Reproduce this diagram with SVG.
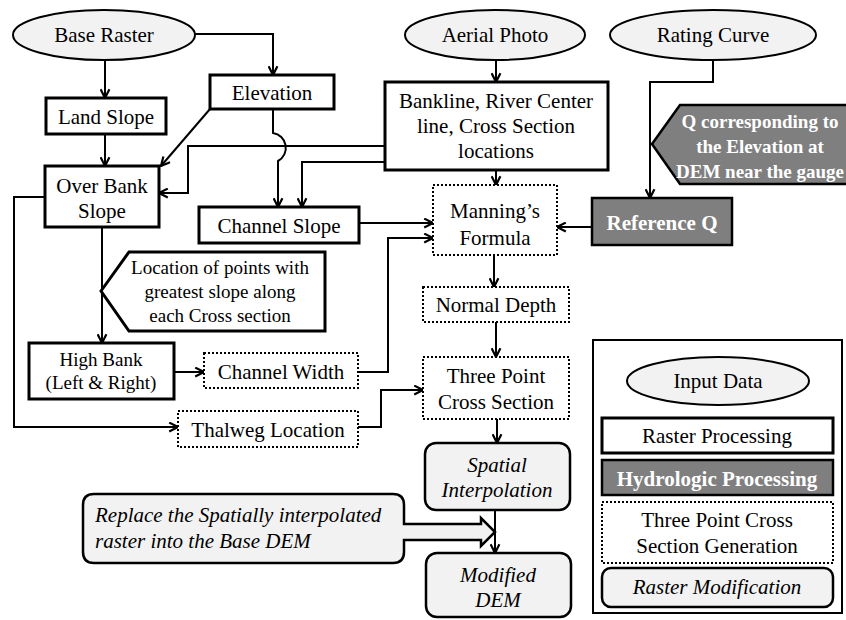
<svg xmlns="http://www.w3.org/2000/svg" width="846" height="620" viewBox="0 0 846 620">
<style>
text{font-family:"Liberation Serif","Times New Roman",serif;font-size:21px;fill:#000;text-anchor:middle}
.sm{font-size:19px}
.b{font-weight:bold;fill:#fff}
.i{font-style:italic}
.ell{fill:#f2f2f2;stroke:#000;stroke-width:2}
.rp{fill:#fff;stroke:#000;stroke-width:3}
.dot{fill:#fff;stroke:#000;stroke-width:2;stroke-dasharray:2 2}
.hp{fill:#7f7f7f;stroke:#000;stroke-width:2.5}
.rm{fill:#f2f2f2;stroke:#000;stroke-width:2.5}
.c{fill:none;stroke:#000;stroke-width:2;marker-end:url(#ah)}
.cn{fill:none;stroke:#000;stroke-width:2}
</style>
<defs>
<marker id="ah" viewBox="0 0 10 10" refX="9" refY="5" markerWidth="11" markerHeight="11" markerUnits="userSpaceOnUse" orient="auto">
<path d="M1,1 L9,5 L1,9" fill="none" stroke="#000" stroke-width="2"/>
</marker>
</defs>
<rect width="846" height="620" fill="#fff"/>
<g id="connectors">
<path class="c" d="M105,60 V98"/>
<path class="c" d="M195,34 H273 V75"/>
<path class="c" d="M105,134 V166"/>
<path class="c" d="M210,109 L161,166"/>
<path class="c" d="M273,109 V133 A15,15 0 0 1 278,161 V207"/>
<path class="c" d="M385,146 H188 V193 H159"/>
<path class="c" d="M385,162 H302 V207"/>
<path class="c" d="M496,60 V82"/>
<path class="c" d="M496,170 V185"/>
<path class="c" d="M713,60 V82 H650 V198"/>
<path class="c" d="M592,227 H557"/>
<path class="c" d="M359,223 H433"/>
<path class="c" d="M358,372 H388 V238 H433"/>
<path class="c" d="M102,227 V343"/>
<path class="c" d="M174,372 H204"/>
<path class="c" d="M45,197 H14 V427 H178"/>
<path class="c" d="M358,427 H381 V390 H423"/>
<path class="c" d="M494,255 V287"/>
<path class="c" d="M496,322 V357"/>
<path class="c" d="M497,419 V443"/>
<path class="c" d="M495,510 V553"/>
</g>
<g id="base-raster"><ellipse class="ell" cx="104" cy="35" rx="91" ry="25"/><text x="104" y="42">Base Raster</text></g>
<g id="aerial-photo"><ellipse class="ell" cx="495" cy="35" rx="90" ry="25"/><text x="495" y="42">Aerial Photo</text></g>
<g id="rating-curve"><ellipse class="ell" cx="713" cy="35" rx="103" ry="25"/><text x="713" y="42">Rating Curve</text></g>
<g id="land-slope"><rect class="rp" x="46" y="98" width="120" height="36"/><text x="106" y="124">Land Slope</text></g>
<g id="elevation"><rect class="rp" x="210" y="75" width="124" height="34"/><text x="272" y="100">Elevation</text></g>
<g id="bankline"><rect class="rp" x="385" y="82" width="223" height="88"/><text x="496" y="108">Bankline, River Center</text><text x="496" y="133">line, Cross Section</text><text x="496" y="158">locations</text></g>
<g id="over-bank-slope"><rect class="rp" x="45" y="166" width="114" height="61"/><text x="102" y="193">Over Bank</text><text x="102" y="218">Slope</text></g>
<g id="channel-slope"><rect class="rp" x="199" y="207" width="160" height="36"/><text x="279" y="233">Channel Slope</text></g>
<g id="location-callout"><polygon class="rp" points="101,291 129,252 325,252 325,331 129,331"/><text class="sm" x="220" y="274">Location of points with</text><text class="sm" x="220" y="298">greatest slope along</text><text class="sm" x="220" y="322">each Cross section</text></g>
<g id="high-bank"><rect class="rp" x="29" y="343" width="145" height="56"/><text class="sm" x="101" y="366">High Bank</text><text class="sm" x="101" y="389">(Left &amp; Right)</text></g>
<g id="channel-width"><rect class="dot" x="204" y="353" width="154" height="35"/><text x="281" y="379">Channel Width</text></g>
<g id="thalweg-location"><rect class="dot" x="178" y="411" width="180" height="36"/><text x="268" y="437">Thalweg Location</text></g>
<g id="mannings-formula"><rect class="dot" x="433" y="185" width="124" height="70"/><text x="495" y="218">Manning’s</text><text x="495" y="245">Formula</text></g>
<g id="q-callout"><polygon class="hp" points="652,144 680,105 848,105 848,184 680,184"/><text class="sm b" x="760" y="128">Q corresponding to</text><text class="sm b" x="760" y="153">the Elevation at</text><text class="sm b" x="760" y="178">DEM near the gauge</text></g>
<g id="reference-q"><rect class="hp" x="592" y="198" width="140" height="47"/><text class="b" x="662" y="230">Reference Q</text></g>
<g id="normal-depth"><rect class="dot" x="423" y="287" width="146" height="35"/><text x="496" y="312">Normal Depth</text></g>
<g id="three-point"><rect class="dot" x="423" y="357" width="146" height="62"/><text x="496" y="383">Three Point</text><text x="496" y="409">Cross Section</text></g>
<g id="spatial-interpolation"><rect class="rm" x="425" y="443" width="145" height="67" rx="11"/><text class="i" x="497" y="472">Spatial</text><text class="i" x="497" y="497">Interpolation</text></g>
<g id="modified-dem"><rect class="rm" x="426" y="553" width="145" height="64" rx="11"/><text class="i" x="498" y="582">Modified</text><text class="i" x="498" y="607">DEM</text></g>
<g id="replace-callout"><path class="rm" d="M94,494 H393 Q404,494 404,505 V524 H481 V518 L495,532 L481,546 V540 H404 V552 Q404,563 393,563 H94 Q83,563 83,552 V505 Q83,494 94,494 Z"/><text class="i" x="95" y="522" style="text-anchor:start">Replace the Spatially interpolated</text><text class="i" x="95" y="548" style="text-anchor:start">raster into the Base DEM</text></g>
<g id="legend">
<rect x="593" y="340" width="249" height="273" fill="#fff" stroke="#000" stroke-width="2"/>
<ellipse class="ell" cx="718" cy="381" rx="91" ry="24"/><text x="718" y="388">Input Data</text>
<rect class="rp" x="602" y="418" width="231" height="35"/><text x="717" y="443">Raster Processing</text>
<rect class="hp" x="602" y="460" width="231" height="35"/><text class="b" x="717" y="486">Hydrologic Processing</text>
<rect class="dot" x="602" y="502" width="231" height="61"/><text x="717" y="527">Three Point Cross</text><text x="717" y="553">Section Generation</text>
<rect class="rm" x="602" y="568" width="231" height="39" rx="9"/><text class="i" x="717" y="594">Raster Modification</text>
</g>
</svg>
